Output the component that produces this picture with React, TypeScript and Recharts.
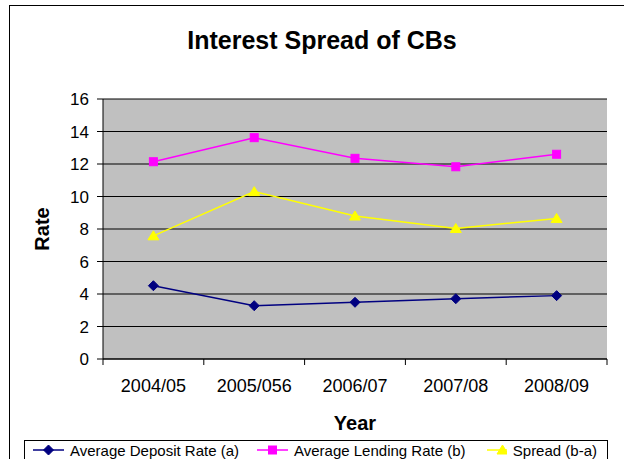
import React from 'react';
import { LineChart, Line, XAxis, YAxis, CartesianGrid, Legend } from 'recharts';

const years = ['2004/05', '2005/056', '2006/07', '2007/08', '2008/09'];
const depositRate = [4.51, 3.28, 3.49, 3.71, 3.9];
const lendingRate = [12.14, 13.62, 12.35, 11.83, 12.6];
const spreadRate = [7.58, 10.3, 8.8, 8.03, 8.65];
const yTicks = [0, 2, 4, 6, 8, 10, 12, 14, 16];

const seriesNames = ['Average Deposit Rate (a)', 'Average Lending Rate (b)', 'Spread (b-a)'];
const seriesKeys = ['deposit', 'lending', 'spread'];
const seriesColors = ['#000080', '#FF00FF', '#FFFF00'];

const data = years.map((year, i) => ({
  year,
  deposit: depositRate[i],
  lending: lendingRate[i],
  spread: spreadRate[i],
}));

const FONT = '"Liberation Sans", Arial, sans-serif';
const W = 624;
const H = 459;
const margin = { top: 99, right: 17, bottom: 20, left: 0 };
const Y_AXIS_W = 103;
const X_AXIS_H = 80;
const plotW = W - Y_AXIS_W - margin.left - margin.right;
const halfBand = plotW / years.length / 2;

function markerShape(kind: number, cx: number, cy: number, color: string, key?: any) {
  if (kind === 0) {
    return (
      <polygon
        key={key}
        points={`${cx},${cy - 5} ${cx + 5},${cy} ${cx},${cy + 5} ${cx - 5},${cy}`}
        fill={color}
        stroke={color}
      />
    );
  }
  if (kind === 1) {
    return <rect key={key} x={cx - 4} y={cy - 4} width={8} height={8} fill={color} stroke={color} />;
  }
  return (
    <polygon
      key={key}
      points={`${cx},${cy - 5} ${cx + 5.5},${cy + 4} ${cx - 5.5},${cy + 4}`}
      fill={color}
      stroke={color}
    />
  );
}

const makeDot = (kind: number, color: string) => (props: any) => {
  const { cx, cy, index } = props;
  if (cx == null || cy == null) return <g key={`n${index}`} />;
  return markerShape(kind, cx, cy, color, `d${kind}-${index}`);
};

const XTick = (props: any) => {
  const { x, y, payload, index } = props;
  return (
    <g>
      <line x1={x - halfBand} y1={y} x2={x - halfBand} y2={y + 6} stroke="#000" strokeWidth={1} />
      {index === years.length - 1 && (
        <line x1={x + halfBand} y1={y} x2={x + halfBand} y2={y + 6} stroke="#000" strokeWidth={1} />
      )}
      <text x={x} y={y + 33} textAnchor="middle" fontSize={18} fontFamily={FONT} fill="#000">
        {payload.value}
      </text>
    </g>
  );
};

const itemWidths = [224, 230, 110];

const LegendContent = () => (
  <div style={{ display: 'flex', alignItems: 'center', height: '100%', paddingLeft: 8, fontFamily: FONT, fontSize: 15, color: '#000' }}>
    {seriesNames.map((name, i) => (
      <div key={name} style={{ display: 'flex', alignItems: 'center', width: itemWidths[i], whiteSpace: 'nowrap' }}>
        <svg width={31} height={12} style={{ marginRight: 6 }}>
          <line x1={0} y1={6} x2={31} y2={6} stroke={seriesColors[i]} strokeWidth={1.5} />
          {markerShape(i, 15.5, 6, seriesColors[i])}
        </svg>
        <span>{name}</span>
      </div>
    ))}
  </div>
);

export default function App() {
  return (
    <div style={{ position: 'absolute', left: 0, top: 0, width: W, height: H, overflow: 'hidden', background: '#fff' }}>
      <div
        style={{
          position: 'absolute',
          left: 9,
          top: 5,
          width: 700,
          height: 600,
          border: '1px solid #000',
          boxSizing: 'border-box',
        }}
      />
      <div
        style={{
          position: 'absolute',
          left: 22,
          width: 600,
          top: 26,
          height: 28,
          lineHeight: '28px',
          textAlign: 'center',
          fontFamily: FONT,
          fontWeight: 'bold',
          fontSize: 25,
          color: '#000',
        }}
      >
        Interest Spread of CBs
      </div>
      <div style={{ position: 'absolute', left: 0, top: 0 }}>
        <LineChart width={W} height={H} data={data} margin={margin}>
          <CartesianGrid
            horizontal={true}
            vertical={false}
            stroke="#000"
            strokeWidth={1}
            fill="#C0C0C0"
            fillOpacity={1}
          />
          <XAxis
            dataKey="year"
            height={X_AXIS_H}
            interval={0}
            padding={{ left: halfBand, right: halfBand }}
            tickLine={false}
            tickSize={0}
            tickMargin={0}
            axisLine={{ stroke: '#000', strokeWidth: 1 }}
            tick={<XTick />}
            label={{
              value: 'Year',
              position: 'insideTop',
              offset: 57,
              style: { fontSize: 20, fontWeight: 'bold', fill: '#000', fontFamily: FONT },
            }}
          />
          <YAxis
            width={Y_AXIS_W}
            domain={[0, 16]}
            ticks={yTicks}
            interval={0}
            tickSize={6}
            tickMargin={8}
            axisLine={{ stroke: '#000', strokeWidth: 1 }}
            tickLine={{ stroke: '#000', strokeWidth: 1 }}
            tick={{ fontSize: 17, fill: '#000', fontFamily: FONT }}
            label={{
              value: 'Rate',
              angle: -90,
              position: 'insideLeft',
              offset: 42,
              style: { textAnchor: 'middle', fontSize: 20, fontWeight: 'bold', fill: '#000', fontFamily: FONT },
            }}
          />
          {seriesKeys.map((k, i) => (
            <Line
              key={k}
              type="linear"
              dataKey={k}
              name={seriesNames[i]}
              stroke={seriesColors[i]}
              strokeWidth={1.5}
              dot={makeDot(i, seriesColors[i])}
              activeDot={false}
              isAnimationActive={false}
            />
          ))}
          <Legend
            layout="horizontal"
            verticalAlign="middle"
            align="center"
            content={<LegendContent />}
            wrapperStyle={{
              left: 24,
              top: 440,
              width: 584,
              height: 30,
              border: '1px solid #000',
              boxSizing: 'border-box',
              background: '#fff',
              paddingBottom: 10,
            }}
          />
        </LineChart>
      </div>
    </div>
  );
}
